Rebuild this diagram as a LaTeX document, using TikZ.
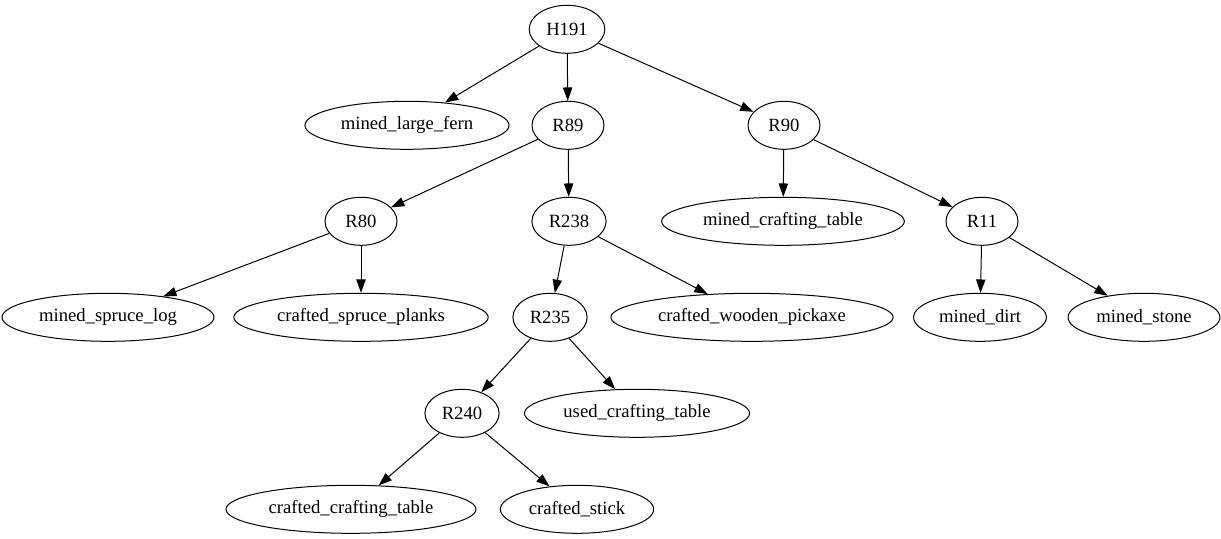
\documentclass[tikz,border=0pt]{standalone}
\usepackage{fontspec}
\setmainfont{Liberation Serif}
\usetikzlibrary{shapes.geometric,arrows.meta}
\tikzset{every node/.style={ellipse,draw,line width=0.75pt,minimum width=54pt,minimum height=36pt,inner xsep=4.5pt,inner ysep=3pt,font=\fontsize{14}{16}\selectfont}}
\tikzset{link/.style={->,line width=0.75pt}}

\begin{document}
\begin{tikzpicture}[x=0.75pt,y=-0.75pt,>={Triangle[length=10pt,width=7pt]}]
      \useasboundingbox (0,0) rectangle (1221,539);
      \node (H191) at (567,29.3) {H191};
      \node (fern) at (407,125.3) {mined\_large\_fern};
      \node (R89) at (568,125.3) {R89};
      \node (R90) at (784,125.3) {R90};
      \node (R80) at (361,221.3) {R80};
      \node (R238) at (569,221.3) {R238};
      \node (mtable) at (783,221.3) {mined\_crafting\_table};
      \node (R11) at (982,221.3) {R11};
      \node (log) at (108,317.3) {mined\_spruce\_log};
      \node (planks) at (361,317.3) {crafted\_spruce\_planks};
      \node (R235) at (550,317.3) {R235};
      \node (pickaxe) at (752,317.3) {crafted\_wooden\_pickaxe};
      \node (dirt) at (980,317.3) {mined\_dirt};
      \node (stone) at (1144,317.3) {mined\_stone};
      \node (R240) at (462,413.3) {R240};
      \node (utable) at (637,413.3) {used\_crafting\_table};
      \node (ctable) at (351,509.3) {crafted\_crafting\_table};
      \node (stick) at (577,509.3) {crafted\_stick};
      \draw[link] (H191) -- (fern);
      \draw[link] (H191) -- (R89);
      \draw[link] (H191) -- (R90);
      \draw[link] (R89) -- (R80);
      \draw[link] (R89) -- (R238);
      \draw[link] (R90) -- (mtable);
      \draw[link] (R90) -- (R11);
      \draw[link] (R80) -- (log);
      \draw[link] (R80) -- (planks);
      \draw[link] (R238) -- (R235);
      \draw[link] (R238) -- (pickaxe);
      \draw[link] (R11) -- (dirt);
      \draw[link] (R11) -- (stone);
      \draw[link] (R235) -- (R240);
      \draw[link] (R235) -- (utable);
      \draw[link] (R240) -- (ctable);
      \draw[link] (R240) -- (stick);
    \end{tikzpicture}
\end{document}
